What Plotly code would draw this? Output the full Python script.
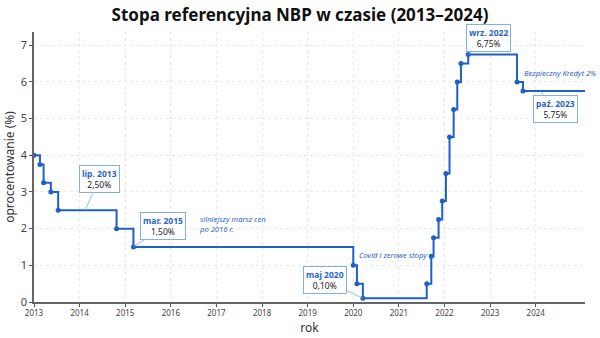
import plotly.graph_objects as go

# Data (decimal year, rate %)
years = [2013.00, 2013.13, 2013.21, 2013.37, 2013.53, 2014.81, 2015.18,
         2020.00, 2020.08, 2020.21, 2021.61, 2021.71, 2021.76, 2021.87,
         2021.95, 2022.03, 2022.11, 2022.20, 2022.28, 2022.36, 2022.52,
         2023.59, 2023.72]
rates = [4.00, 3.75, 3.25, 3.00, 2.50, 2.00, 1.50,
         1.00, 0.50, 0.10, 0.50, 1.25, 1.75, 2.25,
         2.75, 3.50, 4.50, 5.25, 6.00, 6.50, 6.75,
         6.00, 5.75]
end_year = 2025.08
tick_years = list(range(2013, 2025))
y_ticks = [0, 1, 2, 3, 4, 5, 6, 7]

# callouts: (x, y, label line 1, label line 2, ax, ay)
callouts = [
    (2014.12, 2.50, "lip. 2013", "2,50%", 14, -31),
    (2015.18, 1.50, "mar. 2015", "1,50%", 30, -21),
    (2020.21, 0.10, "maj 2020", "0,10%", -38, -18),
    (2022.52, 6.75, "wrz. 2022", "6,75%", 20, -16),
    (2024.10, 5.75, "paź. 2023", "5,75%", 15, 18),
]
notes = [
    (2016.57, 2.13, "silniejszy marsz cen<br>po 2016 r.", "left"),
    (2021.66, 1.28, "Covid i zerowe stopy", "right"),
    (2023.70, 6.24, "Bezpieczny Kredyt 2%", "left"),
]

BLUE = "#1f5fc8"
TXT_BLUE = "#2b66c9"
BOX = "#7fb0e6"

fig = go.Figure()
fig.add_trace(go.Scatter(
    x=years + [end_year], y=rates + [rates[-1]],
    mode="lines", line=dict(color=BLUE, width=2, shape="hv"),
    hoverinfo="skip", showlegend=False, cliponaxis=False))
fig.add_trace(go.Scatter(
    x=years, y=rates, mode="markers",
    marker=dict(color=BLUE, size=5), showlegend=False, cliponaxis=False))

for (x, y, l1, l2, ax, ay) in callouts:
    fig.add_annotation(
        x=x, y=y, ax=ax, ay=ay, axref="pixel", ayref="pixel",
        text=f"<b><span style='color:{TXT_BLUE}'>{l1}</span></b><br><span style='color:#222'>{l2}</span>",
        showarrow=True, arrowhead=0, arrowwidth=0.8, arrowcolor=BOX,
        bordercolor=BOX, borderwidth=1, borderpad=2, bgcolor="white",
        font=dict(family="Noto Sans", size=8.5), align="center")

for (x, y, t, anchor) in notes:
    fig.add_annotation(
        x=x, y=y, text=f"<i>{t}</i>", showarrow=False, xanchor=anchor,
        align="left", font=dict(family="Noto Sans", size=7.6, color=TXT_BLUE))

fig.update_layout(
    width=600, height=338,
    margin=dict(l=34, r=15, t=32, b=36),
    paper_bgcolor="white", plot_bgcolor="white",
    title=dict(text="<b>Stopa referencyjna NBP w czasie (2013–2024)</b>",
               x=0.5, xanchor="center", y=0.955, yanchor="middle",
               font=dict(family="Noto Sans", size=17, color="#111")),
    font=dict(family="Noto Sans", color="#333"),
)
fig.update_xaxes(
    range=[2013, end_year], tickvals=tick_years,
    ticktext=[str(t) for t in tick_years], automargin=False,
    tickfont=dict(size=8, color="#444"), ticks="outside", ticklen=3,
    tickcolor="#555", showline=True, linecolor="#666", linewidth=1.5,
    showgrid=True, gridcolor="#e8e8e8", griddash="dot", gridwidth=1,
    zeroline=False,
    title=dict(text="rok", font=dict(size=12, color="#333"), standoff=6))
fig.update_yaxes(
    range=[0, 7.36], tickvals=y_ticks, automargin=False,
    tickfont=dict(size=11, color="#444"), ticks="outside", ticklen=3,
    tickcolor="#555", showline=True, linecolor="#666", linewidth=1.5,
    showgrid=True, gridcolor="#e8e8e8", griddash="dot", gridwidth=1,
    zeroline=False,
    title=dict(text="oprocentowanie (%)", font=dict(size=12, color="#333"),
               standoff=4))

fig.write_html("out.html")
